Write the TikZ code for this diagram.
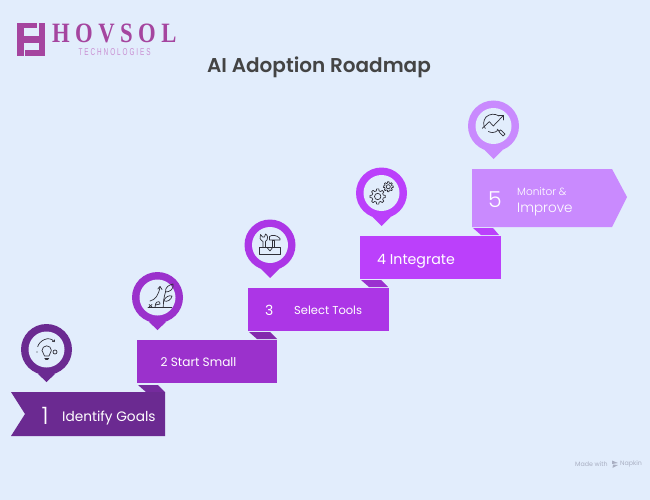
\documentclass[tikz,border=0pt]{standalone}
\usepackage{fontspec}
\setmainfont{Poppins}
\newfontfamily\popsemi{Poppins SemiBold}
\newfontfamily\poplight{Poppins Light}
\newfontfamily\logofont[LetterSpace=24]{Liberation Serif}
\newfontfamily\logosub[LetterSpace=30]{Liberation Sans}
\definecolor{bgc}{HTML}{E2EDFC}
\definecolor{cA}{HTML}{6B2A91}
\definecolor{cB}{HTML}{9B31CC}
\definecolor{cC}{HTML}{AC36E6}
\definecolor{cD}{HTML}{BB40FB}
\definecolor{cE}{HTML}{C98AFE}
\definecolor{logoc}{HTML}{A5459F}
\definecolor{logol}{HTML}{C98FD2}
\definecolor{ink}{HTML}{2F2F38}
\definecolor{titlec}{HTML}{444444}
\definecolor{madec}{HTML}{A9AFC2}
\tikzset{
  lab/.style={text=white,inner sep=0pt,anchor=west},
  icon/.style={draw=ink,line width=0.7pt,line cap=round,line join=round,fill=none},
}
\newcommand{\pin}[4]{% x, y, tip y, colour
  \fill[#4] (#1-9,#2+24) -- (#1,#3) -- (#1+9,#2+24) -- cycle;
  \fill[#4] (#1,#2) circle[radius=25.5];
  \fill[bgc] (#1,#2) circle[radius=18];
}
\newcommand{\gear}[4]{% x,y,outer,inner
  \begin{scope}[shift={(#1,#2)}]
    \draw[icon] (-14:#4)
      \foreach \a in {0,45,...,315}{
        -- ({\a-8}:#3) -- ({\a+8}:#3) -- ({\a+14}:#4) -- ({\a+31}:#4)
      } -- cycle;
    \draw[icon] (0,0) circle[radius=#4*0.55];
  \end{scope}
}
\begin{document}
\begin{tikzpicture}[x=1pt,y=-1pt]
\useasboundingbox (0,0) rectangle (650,500);
\fill[bgc] (0,0) rectangle (650,500);

% logo
\fill[logoc] (17,23) rectangle (45,56);
\fill[bgc] (24,28) rectangle (37,36.5);
\fill[bgc] (37,23) rectangle (39,36.5);
\fill[bgc] (25,43) rectangle (38.5,50);
\fill[bgc] (23.5,43) rectangle (25,56);
\node[inner sep=0pt,anchor=west,text=logoc,xscale=0.81] (logotxt) at (52,33) {\logofont\bfseries\fontsize{28}{28}\selectfont HOVSOL};
\node[inner sep=0pt,anchor=west,text=logol,xscale=0.64] (logosub) at (78.5,52.5) {\logosub\fontsize{10}{10}\selectfont TECHNOLOGIES};

% title
\node[inner sep=0pt,text=titlec] (title) at (319,67) {\popsemi\fontsize{20}{20}\selectfont AI Adoption Roadmap};

% folds
\fill[cA!80!cB] (138,385) -- (158,385) -- (165,392) -- (146,392) -- cycle;
\fill[cB!85!black] (249,332) -- (270,332) -- (277,339) -- (257,339) -- cycle;
\fill[cC!90!black] (361,280) -- (381,280) -- (388,287) -- (369,287) -- cycle;
\fill[cD] (473,228) -- (493,228) -- (499,235) -- (481,235) -- cycle;

% ribbons
\fill[cA] (11,392) -- (165,392) -- (165,436) -- (11,436) -- (25,414) -- cycle;
\fill[cB] (136.5,340) rectangle (277,383);
\fill[cC] (248,288) rectangle (389,331);
\fill[cD] (360,236) rectangle (500.5,279);
\fill[cE] (472,169) -- (612,169) -- (627,197) -- (612,227) -- (472,227) -- cycle;

% pins
\pin{46.5}{349.5}{382}{cA}
\pin{157.5}{297.5}{330}{cB}
\pin{270}{245}{278}{cC}
\pin{381.5}{193}{226}{cD}
\pin{493.5}{126}{159}{cE}

% labels
\node[lab] (n1) at (41.5,416) {\poplight\fontsize{24}{24}\selectfont 1};
\node[lab] (t1) at (62,418) {\fontsize{13.7}{13.7}\selectfont Identify Goals};
\node[lab] (t2) at (160.5,362) {\fontsize{12.1}{12.1}\selectfont 2 Start Small};
\node[lab] (n3) at (265,310) {\fontsize{14}{14}\selectfont 3};
\node[lab] (t3) at (294,310.5) {\fontsize{11.5}{11.5}\selectfont Select Tools};
\node[lab] (t4) at (377,261) {\fontsize{14.2}{14.2}\selectfont 4 Integrate};
\node[lab] (n5) at (488,199.5) {\poplight\fontsize{22}{22}\selectfont 5};
\node[lab] (t5a) at (517,191.5) {\poplight\fontsize{10.5}{10.5}\selectfont Monitor \&};
\node[lab] (t5b) at (517,210) {\poplight\fontsize{13.5}{13.5}\selectfont Improve};

% credit
\node[inner sep=0pt,anchor=west,text=madec] (made) at (575,464) {\fontsize{6.3}{6.3}\selectfont Made with};
\node[inner sep=0pt,anchor=west,text=madec] (napkin) at (620,464) {\fontsize{6.3}{6.3}\selectfont Napkin};
\fill[madec] (612,460.5) -- (618,463) -- (612,464) -- cycle;
\fill[madec] (613,464.5) -- (618,465) -- (612.5,468) -- cycle;

% icon 1: bulb
\draw[icon] (37.7,346.7) .. controls (39,341) and (49,335) .. (54.3,341.7);
\draw[icon] (52.5,341.5) -- (54.3,341.7) -- (54.6,339.8);
\draw[icon] (44.5,356) .. controls (44.5,353.5) and (42,353) .. (42,350.5)
  arc[start angle=180,end angle=360,radius=4.7] .. controls (51.4,353) and (49,353.5) .. (49,356) -- cycle;
\draw[icon] (44.8,358) -- (48.8,358);
\draw[icon] (45.5,359.5) -- (48,359.5);
\draw[icon] (55,352) circle[radius=2];
\fill[ink] (37,352) circle[radius=0.6];

% icon 2: sprout
\draw[icon] (148,307.3) -- (171.7,307.3);
\draw[icon] (163.3,307.3) .. controls (163.3,301) and (164,297) .. (165.5,292);
\draw[icon] (165.5,292) .. controls (165,287) and (169,285) .. (173,284) .. controls (174,289) and (170,292) .. (165.5,292);
\draw[icon] (163.8,301) .. controls (165,297) and (169,295) .. (172,296) .. controls (171,300) and (168,302) .. (163.8,301);
\draw[icon] (150,301) .. controls (155,300) and (159,295) .. (160,286.5);
\draw[icon] (157.8,289) -- (160,286.5) -- (162,289.5);
\draw[icon] (155,307.3) .. controls (155,304) and (156,303) .. (157,302) .. controls (160,301) and (160,303) .. (160,304) .. controls (158,305) and (157,304) .. (155.5,305);
\draw[icon] (149,304.5) -- (152,307);
\draw[icon] (152,304.5) -- (149,307);

% icon 3: tools
\draw[icon] (259.3,247.5) rectangle (280.7,254.8);
\draw[icon] (267,247.5) -- (270,251) -- (272.5,247.5);
\draw[icon] (263,247) -- (263,241.5) .. controls (260,240) and (259,237) .. (260.5,234.5) -- (262.5,237) -- (264.5,237) -- (265.5,234) .. controls (268,235) and (268.5,239.5) .. (265.5,241.5) -- (265.5,247);
\draw[icon] (272,247) -- (272,240) -- (274.5,240) -- (274.5,247);
\draw[icon] (269.5,240) -- (269.5,236.5) .. controls (272,234.5) and (277,235) .. (280,238.5) -- (280,240) -- cycle;

% icon 4: gears
\gear{377.7}{196.5}{7.7}{5.8}
\gear{388.3}{186.7}{5}{3.7}

% icon 5: chart with magnifier
\draw[icon] (486,117) .. controls (490,113.5) and (495,113.5) .. (499,116);
\draw[icon] (485.3,128.5) .. controls (483,125) and (483,121) .. (486,117);
\draw[icon] (488.5,131.5) .. controls (491,133) and (495,133) .. (497.5,130.5);
\draw[icon] (482.3,128.3) -- (489.3,121.7) -- (493.3,126) -- (503.3,115.5);
\draw[icon] (498.5,115.2) -- (503.3,115.2) -- (503.3,120);
\draw[icon] (497,129) -- (499,131);
\draw[icon] (498.8,131.5) -- (500.5,129.8) -- (505,134) -- (503,136) -- cycle;
\end{tikzpicture}
\end{document}
